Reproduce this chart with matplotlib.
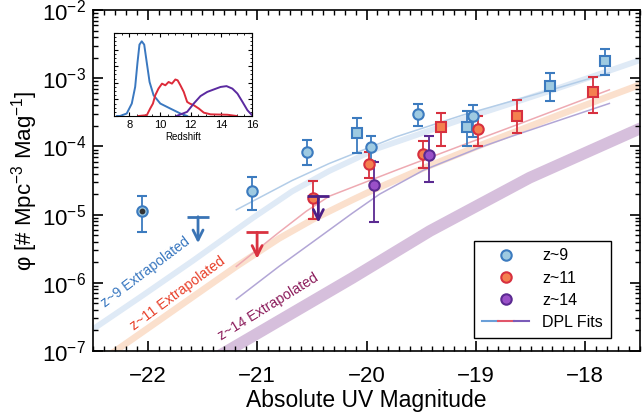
import matplotlib
matplotlib.use('Agg')
import matplotlib.pyplot as plt
import numpy as np
from matplotlib.lines import Line2D
from matplotlib.legend_handler import HandlerTuple
from matplotlib.ticker import MultipleLocator, LogLocator, NullFormatter

plt.rcParams['font.family'] = ['Liberation Sans', 'DejaVu Sans']
plt.rcParams['mathtext.fontset'] = 'custom'
plt.rcParams['mathtext.rm'] = 'Liberation Sans'
plt.rcParams['mathtext.it'] = 'Liberation Sans:italic'
plt.rcParams['mathtext.bf'] = 'Liberation Sans:bold'

# ---------------- data ----------------
# z~9
z9_circ_M = [-21.05, -20.54, -19.96, -19.525, -19.03]
z9_circ_phi = [2.19e-5, 8.4e-5, 9.9e-5, 3.0e-4, 2.8e-4]
z9_circ_hi = [3.5e-5, 1.26e-4, 1.44e-4, 4.2e-4, 4.1e-4]
z9_circ_lo = [1.15e-5, 5.3e-5, 6.2e-5, 2.0e-4, 1.39e-4]
z9_sq_M = [-20.09, -19.08, -18.32, -17.82]
z9_sq_phi = [1.55e-4, 1.95e-4, 7.7e-4, 1.8e-3]
z9_sq_hi = [2.6e-4, 3.3e-4, 1.2e-3, 2.7e-3]
z9_sq_lo = [7.9e-5, 1.02e-4, 4.7e-4, 1.12e-3]
z9_bright_M = [-22.05]
z9_bright_phi = [1.12e-5]
z9_bright_hi = [1.87e-5]
z9_bright_lo = [5.5e-6]
z9_lim_M = [-21.54]
z9_lim_phi = [9.3e-6]

# z~11
z11_circ_M = [-20.49, -19.98, -19.48, -18.98]
z11_circ_phi = [1.78e-5, 5.6e-5, 7.85e-5, 1.82e-4]
z11_circ_hi = [3.1e-5, 8.4e-5, 1.18e-4, 2.8e-4]
z11_circ_lo = [8.7e-6, 3.4e-5, 4.8e-5, 1.0e-4]
z11_sq_M = [-19.32, -18.62, -17.93]
z11_sq_phi = [1.95e-4, 2.8e-4, 6.3e-4]
z11_sq_hi = [3.1e-4, 4.8e-4, 1.05e-3]
z11_sq_lo = [1.02e-4, 1.55e-4, 3.1e-4]
z11_lim_M = [-21.0]
z11_lim_phi = [5.5e-6]

# z~14
z14_circ_M = [-19.93, -19.43]
z14_circ_phi = [2.68e-5, 7.6e-5]
z14_circ_hi = [6.0e-5, 1.44e-4]
z14_circ_lo = [7.9e-6, 3.0e-5]
z14_lim_M = [-20.44]
z14_lim_phi = [1.86e-5]

# DPL fit curves: M and log10(phi)
fit9_M = [-21.19, -20.68, -20.34, -19.73, -19.12, -18.33, -17.78]
fit9_log = [-4.93, -4.50, -4.25, -3.86, -3.54, -3.18, -2.92]
band9_M = [-22.50, -22.05, -21.59, -21.04, -20.68, -20.34, -19.90, -19.12, -18.33, -17.78, -17.49]
band9_log = [-6.68, -6.19, -5.68, -5.05, -4.66, -4.36, -4.03, -3.60, -3.19, -2.89, -2.73]

fit11_M = [-21.19, -20.80, -20.55, -20.34, -19.73, -19.12, -18.62, -17.78]
fit11_log = [-5.76, -5.26, -4.95, -4.73, -4.35, -3.98, -3.68, -3.17]
band11_M = [-22.35, -21.89, -21.19, -20.80, -20.49, -20.13, -19.94, -19.48, -18.97, -18.21, -17.49]
band11_log = [-7.06, -6.545, -5.76, -5.35, -5.07, -4.785, -4.64, -4.32, -3.99, -3.52, -3.09]

fit14_M = [-21.19, -20.80, -20.49, -20.13, -19.88, -19.48, -18.97, -18.67, -17.78]
fit14_log = [-6.24, -5.76, -5.40, -4.98, -4.70, -4.35, -4.02, -3.85, -3.37]
band14_M = [-21.40, -20.13, -19.42, -18.51, -17.49]
band14_log = [-7.12, -5.93, -5.24, -4.46, -3.73]

# Inset redshift distributions
pz9_z = [7.2, 7.39, 7.83, 8.16, 8.38, 8.53, 8.66, 8.81, 8.97, 9.14, 9.32, 9.58, 10.02, 10.67, 11.33, 11.77]
pz9_p = [0.0, 0.0, 0.03, 0.15, 0.35, 0.64, 0.86, 0.90, 0.86, 0.64, 0.41, 0.25, 0.15, 0.09, 0.03, 0.0]
pz11_z = [8.6, 9.14, 9.36, 9.54, 9.69, 9.90, 10.13, 10.35, 10.56, 10.78, 11.00, 11.15, 11.33, 11.55,
          11.77, 11.94, 12.20, 12.53, 12.86, 13.30, 14.40, 15.00]
pz11_p = [0.0, 0.01, 0.09, 0.15, 0.25, 0.33, 0.39, 0.37, 0.41, 0.39, 0.44, 0.43, 0.37, 0.29,
          0.17, 0.15, 0.13, 0.09, 0.04, 0.02, 0.015, 0.0]
pz14_z = [11.07, 11.77, 12.20, 12.64, 13.08, 13.51, 13.95, 14.34, 14.72, 15.05, 15.38, 15.70, 16.0]
pz14_p = [0.0, 0.05, 0.15, 0.24, 0.29, 0.32, 0.35, 0.36, 0.33, 0.27, 0.17, 0.07, 0.01]

# ---------------- styles ----------------
blue_e, blue_f = '#3c7bbf', '#9ecae1'
red_e, red_f = '#d7303f', '#f4804f'
pur_e, pur_f = '#5b2a91', '#9a50c8'

fig = plt.figure(figsize=(6.42, 4.15), dpi=100)
ax = fig.add_axes([93 / 642, 64 / 415, 547 / 642, 341 / 415])

def pw(v):
    return [10 ** x for x in v]

# bands
ax.plot(band9_M, pw(band9_log), color='#dfeaf6', lw=4.2, solid_capstyle='butt',
        solid_joinstyle='round', zorder=1)
ax.plot(band11_M, pw(band11_log), color='#fbe0cd', lw=4.8, solid_capstyle='butt',
        solid_joinstyle='round', zorder=1)
ax.plot(band14_M, pw(band14_log), color='#d6bfdc', lw=8.4, solid_capstyle='butt',
        solid_joinstyle='round', zorder=1)
# fits
ax.plot(fit9_M, pw(fit9_log), color='#b3cde8', lw=1.1, zorder=2)
ax.plot(fit11_M, pw(fit11_log), color='#eeaab2', lw=1.1, zorder=2)
ax.plot(fit14_M, pw(fit14_log), color='#b2a6d6', lw=1.1, zorder=2)

def errpts(M, phi, lo, hi, marker, fc, ec, ms):
    phi = np.array(phi); lo = np.array(lo); hi = np.array(hi)
    ax.errorbar(M, phi, yerr=[phi - lo, hi - phi], fmt=marker, ms=ms, mfc=fc, mec=ec,
                mew=1.5, ecolor=ec, elinewidth=1.3, capsize=3.5, capthick=1.3, zorder=5)

errpts(z9_circ_M, z9_circ_phi, z9_circ_lo, z9_circ_hi, 'o', blue_f, blue_e, 7.5)
errpts(z9_sq_M, z9_sq_phi, z9_sq_lo, z9_sq_hi, 's', blue_f, blue_e, 6.5)
errpts(z9_bright_M, z9_bright_phi, z9_bright_lo, z9_bright_hi, 'o', blue_f, blue_e, 7.5)
ax.plot(z9_bright_M, z9_bright_phi, 'o', color='#333333', ms=3.2, zorder=6)
errpts(z11_circ_M, z11_circ_phi, z11_circ_lo, z11_circ_hi, 'o', red_f, red_e, 7.5)
errpts(z11_sq_M, z11_sq_phi, z11_sq_lo, z11_sq_hi, 's', red_f, red_e, 6.5)
errpts(z14_circ_M, z14_circ_phi, z14_circ_lo, z14_circ_hi, 'o', pur_f, pur_e, 7.5)

def uplim(M, phi, c):
    ax.plot(M, phi, marker='_', ls='', ms=16, mew=2.0, color=c, zorder=6)
    for m, p in zip(M, phi):
        ax.annotate('', xy=(m, p), xycoords='data', xytext=(0, -19), textcoords='offset points',
                    arrowprops=dict(arrowstyle='<-', color=c, lw=2.0, mutation_scale=18,
                                    shrinkA=0, shrinkB=0), zorder=6)

uplim(z9_lim_M, z9_lim_phi, '#3a74b5')
uplim(z11_lim_M, z11_lim_phi, '#d93240')
uplim(z14_lim_M, z14_lim_phi, '#4b1e87')

ax.text(-22.39, 10 ** -6.36, 'z~9 Extrapolated', color='#3a78c0', fontsize=10.2,
        rotation=37, rotation_mode='anchor', ha='left', va='baseline', zorder=3)
ax.text(-22.12, 10 ** -6.70, 'z~11 Extrapolated', color='#e8402a', fontsize=10.2,
        rotation=36.4, rotation_mode='anchor', ha='left', va='baseline', zorder=3)
ax.text(-21.33, 10 ** -6.84, 'z~14 Extrapolated', color='#8c1d5c', fontsize=10.2,
        rotation=31.7, rotation_mode='anchor', ha='left', va='baseline', zorder=3)

ax.set_yscale('log')
ax.set_xlim(-22.5, -17.5)
ax.set_ylim(1e-7, 1e-2)
ax.xaxis.set_major_locator(MultipleLocator(1))
ax.xaxis.set_minor_locator(MultipleLocator(0.1))
ax.yaxis.set_major_locator(LogLocator(base=10, numticks=10))
ax.yaxis.set_minor_locator(LogLocator(base=10, subs=np.arange(2, 10), numticks=20))
ax.yaxis.set_minor_formatter(NullFormatter())
ax.tick_params(which='both', direction='in', top=True, right=True, width=1.2, labelsize=16)
ax.tick_params(which='major', length=7)
ax.tick_params(which='minor', length=3.5, width=1)
ax.tick_params(axis='x', pad=11)
ax.tick_params(axis='y', pad=5)
for s in ax.spines.values():
    s.set_linewidth(1.2)
ax.set_xlabel('Absolute UV Magnitude', fontsize=16.5, labelpad=1)
ax.set_ylabel('φ [# Mpc$^{-3}$ Mag$^{-1}$]', fontsize=16)
ax.yaxis.set_label_coords(-0.096, 0.5)

h9 = Line2D([], [], marker='o', ls='', ms=7.5, mfc=blue_f, mec=blue_e, mew=1.5)
h11 = Line2D([], [], marker='o', ls='', ms=7.5, mfc=red_f, mec=red_e, mew=1.5)
h14 = Line2D([], [], marker='o', ls='', ms=7.5, mfc=pur_f, mec=pur_e, mew=1.5)
hd = (Line2D([], [], color='#6a9fd8', lw=1.5), Line2D([], [], color='#e0556a', lw=1.5),
      Line2D([], [], color='#7a5bb8', lw=1.5))
leg = ax.legend([h9, h11, h14, hd], ['z~9', 'z~11', 'z~14', 'DPL Fits'],
                handler_map={tuple: HandlerTuple(ndivide=None, pad=0)},
                loc='lower right', bbox_to_anchor=(0.947, 0.038), borderaxespad=0,
                fontsize=11.5, frameon=True, fancybox=False, edgecolor='black',
                framealpha=1, handlelength=3.0, labelspacing=0.45, handletextpad=0.8,
                borderpad=0.5)
leg.get_frame().set_linewidth(1.0)

# inset
ins = fig.add_axes([114 / 642, (415 - 116) / 415, 138 / 642, 83 / 415])
ins.plot(pz9_z, pz9_p, color='#3a78c0', lw=1.4)
ins.plot(pz11_z, pz11_p, color='#dd2b3a', lw=1.4)
ins.plot(pz14_z, pz14_p, color='#5b2aa0', lw=1.4)
ins.set_xlim(7, 16)
ins.set_ylim(0, 1.0)
ins.xaxis.set_major_locator(MultipleLocator(2))
ins.xaxis.set_minor_locator(MultipleLocator(0.5))
ins.yaxis.set_major_locator(MultipleLocator(0.2))
ins.yaxis.set_minor_locator(MultipleLocator(0.05))
ins.set_yticklabels([])
ins.tick_params(which='both', direction='in', top=True, right=True, labelsize=8, pad=3)
ins.tick_params(which='major', length=3)
ins.tick_params(which='minor', length=1.5)
ins.set_xlabel('Redshift', fontsize=7, labelpad=1)

fig.savefig('out.png', dpi=100)
